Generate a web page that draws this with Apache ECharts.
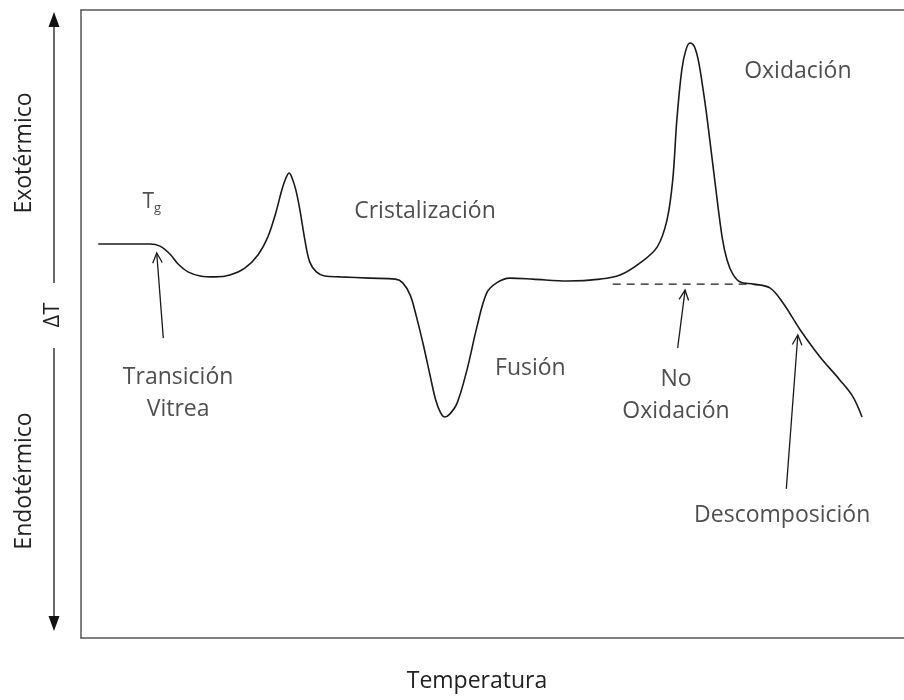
<!DOCTYPE html>
<html>
<head>
<meta charset="utf-8">
<script src="https://cdn.jsdelivr.net/npm/echarts@6/dist/echarts.min.js"></script>
<style>
  html, body { margin: 0; padding: 0; background: #fff; }
  #chart { width: 904px; height: 700px; }
</style>
</head>
<body>
<div id="chart"></div>
<script>
    // DSC curve, temperature (arbitrary units) vs ΔT (arbitrary units)
    const curveT = [2.1, 8.4, 9.6, 10.8, 11.8, 13.0, 14.5, 16.3, 18.1, 19.9, 21.5, 22.7, 23.7, 24.4, 24.9, 25.3, 25.6, 26.1, 26.6, 27.2, 27.8, 28.6, 29.6, 31.5, 35.1, 38.2, 39.1, 40.0, 40.7, 41.6, 42.4, 43.1, 43.7, 44.2, 44.8, 45.7, 46.9, 48.1, 49.3, 50.5, 52.1, 54.9, 59.1, 63.1, 65.5, 67.9, 70.0, 71.2, 71.9, 72.4, 73.0, 73.5, 74.0, 74.5, 75.0, 75.6, 76.1, 77.0, 77.9, 78.5, 79.2, 80.1, 81.7, 83.7, 85.3, 87.4, 89.8, 92.2, 93.8, 94.9];
    const curveDT = [25.5, 25.5, 24.8, 22.3, 19.1, 16.6, 15.3, 15.0, 15.6, 17.8, 22.0, 27.7, 35.7, 42.7, 46.5, 48.1, 46.8, 42.7, 36.3, 26.8, 19.7, 16.6, 15.3, 15.0, 14.6, 14.3, 13.1, 9.2, 2.9, -6.7, -16.2, -24.2, -28.3, -29.6, -28.7, -25.2, -14.6, -1.0, 9.9, 13.1, 14.6, 14.3, 13.7, 14.3, 15.6, 19.4, 24.5, 33.1, 45.9, 65.0, 80.9, 87.3, 89.5, 88.5, 84.1, 74.5, 65.0, 45.9, 27.7, 20.4, 15.9, 13.4, 12.7, 11.5, 6.7, -1.9, -10.5, -17.8, -23.2, -29.6];

    // baseline without oxidation (dashed)
    const baselineT = [64.6, 80.9];
    const baselineDT = [12.7, 12.7];

    // arrows: [tailT, tailDT, tipT, tipDT]
    const arrows = [
        [10.0, -4.5, 9.2, 22.6],
        [72.5, -7.6, 73.4, 10.8],
        [85.7, -52.5, 87.1, -3.5]
    ];

    // annotation texts and where they sit
    const labelNames = ['Tg', 'Cristalización', 'Fusión', 'Oxidación', 'No\nOxidación', 'Transición\nVitrea', 'Descomposición'];
    const labelT = [8.6, 41.8, 54.6, 87.1, 72.3, 11.8, 85.2];
    const labelDT = [38.8, 35.7, -14.0, 80.3, -22.9, -22.0, -61.1];

    const FONT = 'Open Sans';
    const TXT = '#222';
    const LINE = '#1a1a1a';

    let myChart = echarts.init(document.getElementById('chart'));

    let textData = labelNames.map(function (n, i) {
        let item = { name: n, value: [labelT[i], labelDT[i]] };
        if (n === 'Tg') {
            item.label = {
                formatter: '{t|T}{s|g}',
                rich: {
                    t: { fontFamily: FONT, fontSize: 21, color: TXT },
                    s: { fontFamily: FONT, fontSize: 13, color: TXT, padding: [12, 0, 0, 0] }
                }
            };
        }
        return item;
    });

    let option = {
        backgroundColor: '#fff',
        animation: false,
        grid: {
            left: 81,
            right: 0,
            top: 10,
            bottom: 62
        },
        xAxis: [{
            type: 'value',
            min: 0,
            max: 100,
            position: 'bottom',
            axisLine: { show: true, onZero: false, lineStyle: { color: '#555', width: 1.5 } },
            axisTick: { show: false },
            axisLabel: { show: false },
            splitLine: { show: false }
        }, {
            type: 'value',
            min: 0,
            max: 100,
            position: 'top',
            axisLine: { show: true, onZero: false, lineStyle: { color: '#555', width: 1.5 } },
            axisTick: { show: false },
            axisLabel: { show: false },
            splitLine: { show: false }
        }],
        yAxis: {
            type: 'value',
            min: -100,
            max: 100,
            axisLine: { show: true, onZero: false, lineStyle: { color: '#555', width: 1.5 } },
            axisTick: { show: false },
            axisLabel: { show: false },
            splitLine: { show: false }
        },
        graphic: [
            { type: 'line', shape: { x1: 54, y1: 24, x2: 54, y2: 283 }, style: { stroke: LINE, lineWidth: 1.3 } },
            { type: 'line', shape: { x1: 54, y1: 348, x2: 54, y2: 620 }, style: { stroke: LINE, lineWidth: 1.3 } },
            { type: 'polygon', shape: { points: [[54, 12], [48.5, 27], [59.5, 27]] }, style: { fill: '#111' } },
            { type: 'polygon', shape: { points: [[54, 631], [48.5, 616], [59.5, 616]] }, style: { fill: '#111' } },
            { type: 'text', x: 53, y: 315, rotation: Math.PI / 2, style: { text: 'ΔT', fontFamily: FONT, fontSize: 22, fill: TXT, align: 'center', verticalAlign: 'middle' } },
            { type: 'text', x: 24, y: 153, rotation: Math.PI / 2, style: { text: 'Exotérmico', fontFamily: FONT, fontSize: 23, fill: TXT, align: 'center', verticalAlign: 'middle' } },
            { type: 'text', x: 24, y: 481, rotation: Math.PI / 2, style: { text: 'Endotérmico', fontFamily: FONT, fontSize: 23, fill: TXT, align: 'center', verticalAlign: 'middle' } },
            { type: 'text', x: 477, y: 681, style: { text: 'Temperatura', fontFamily: FONT, fontSize: 23, fill: TXT, align: 'center', verticalAlign: 'middle' } }
        ],
        series: [{
            type: 'line',
            data: curveT.map(function (t, i) { return [t, curveDT[i]]; }),
            smooth: 0.35,
            symbol: 'none',
            lineStyle: { color: LINE, width: 1.6 }
        }, {
            type: 'line',
            data: baselineT.map(function (t, i) { return [t, baselineDT[i]]; }),
            symbol: 'none',
            lineStyle: { color: LINE, width: 1.4, type: [8, 6] }
        }, {
            type: 'custom',
            data: arrows,
            encode: { x: [0, 2], y: [1, 3] },
            renderItem: function (params, api) {
                let a = api.coord([api.value(0), api.value(1)]);
                let b = api.coord([api.value(2), api.value(3)]);
                let ang = Math.atan2(b[1] - a[1], b[0] - a[0]);
                let len = 11, spread = 0.45;
                let p1 = [b[0] - len * Math.cos(ang - spread), b[1] - len * Math.sin(ang - spread)];
                let p2 = [b[0] - len * Math.cos(ang + spread), b[1] - len * Math.sin(ang + spread)];
                return {
                    type: 'group',
                    children: [{
                        type: 'line',
                        shape: { x1: a[0], y1: a[1], x2: b[0], y2: b[1] },
                        style: { stroke: LINE, lineWidth: 1.3 }
                    }, {
                        type: 'polyline',
                        shape: { points: [p1, b, p2] },
                        style: { stroke: LINE, lineWidth: 1.3, fill: null }
                    }]
                };
            }
        }, {
            type: 'scatter',
            data: textData,
            symbolSize: 1,
            itemStyle: { color: 'rgba(0,0,0,0)' },
            label: {
                show: true,
                position: 'inside',
                formatter: function (p) { return p.name; },
                fontFamily: FONT,
                fontSize: 23,
                lineHeight: 32,
                color: TXT,
                align: 'center'
            }
        }]
    };
    myChart.setOption(option);
</script>
</body>
</html>
